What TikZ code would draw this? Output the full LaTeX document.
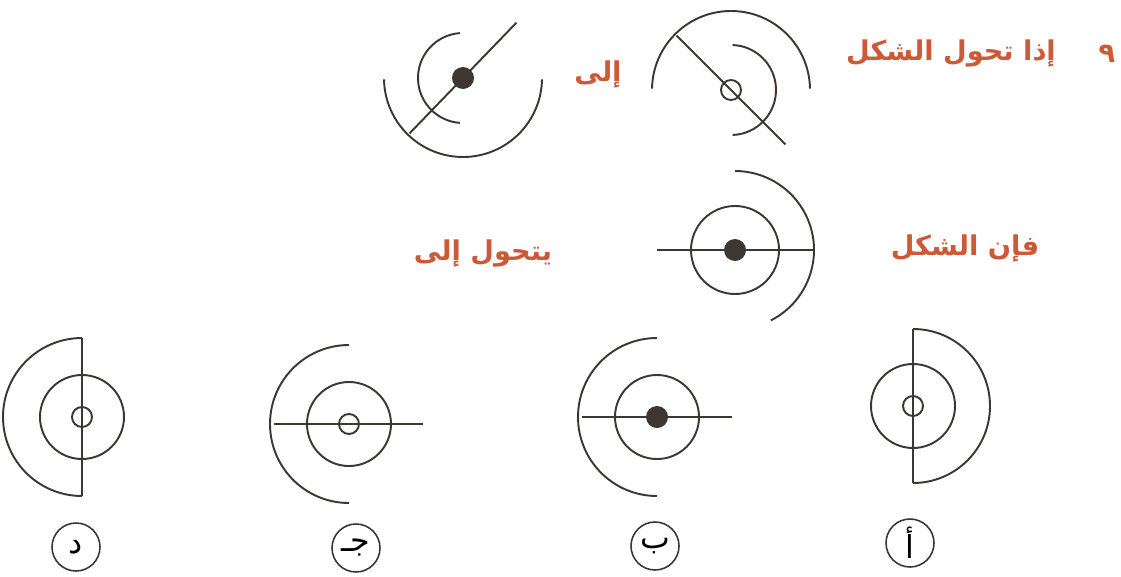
\documentclass[tikz,border=0pt]{standalone}
\usepackage{fontspec}
\usetikzlibrary{positioning}
\TeXXeTstate=1
\newfontfamily\arabicfont[Script=Arabic]{DejaVu Sans}
\definecolor{qred}{RGB}{205,90,55}
\definecolor{qline}{RGB}{60,55,50}

\begin{document}
\begin{tikzpicture}[x=0.02cm, y=0.02cm]
  \tikzset{
    ring/.style={draw=qline, line width=1.1pt},
    qtext/.style={text=qred, font=\arabicfont\bfseries\fontsize{15.5}{18}\selectfont, inner sep=0pt},
    choice/.style={draw=qline, circle, line width=0.9pt, minimum size=0.96cm, inner sep=0pt, font=\arabicfont\fontsize{18}{20}\selectfont}
  }
  \useasboundingbox (0,0) rectangle (1121,576);

  % question text
  \node[qtext] (num)    at (1107,522) {\beginR ٩\endR};
  \node[qtext] (if)     at (951,523)  {\beginR إذا تحول الشكل\endR};
  \node[qtext] (to)     at (598,502)  {\beginR إلى\endR};
  \node[qtext] (then)   at (965,328)  {\beginR فإن الشكل\endR};
  \node[qtext] (becomes) at (483,323) {\beginR يتحول إلى\endR};

  % before (hollow centre)
  \begin{scope}[shift={(731,486)}]
    \draw[ring] (0,0) circle (10);
    \draw[ring] (1:79) arc[start angle=1, end angle=179, radius=79];
    \draw[ring] (-88:45) arc[start angle=-88, end angle=88, radius=45];
    \draw[ring] (135:77) -- (-45:77);
  \end{scope}

  % after (filled centre)
  \begin{scope}[shift={(463,498)}]
    \fill[qline] (0,0) circle (11);
    \draw[ring] (181:79) arc[start angle=181, end angle=359, radius=79];
    \draw[ring] (94:45) arc[start angle=94, end angle=266, radius=45];
    \draw[ring] (226:77) -- (46:77);
  \end{scope}

  % given shape
  \begin{scope}[shift={(735,326)}]
    \fill[qline] (0,0) circle (11);
    \draw[ring] (0,0) circle (44);
    \draw[ring] (-63:79) arc[start angle=-63, end angle=90, radius=79];
    \draw[ring] (180:78) -- (0:79);
  \end{scope}

  % choice d
  \begin{scope}[shift={(82,159)}]
    \draw[ring] (0,0) circle (10);
    \draw[ring] (0,0) circle (42);
    \draw[ring] (90:79) arc[start angle=90, end angle=270, radius=79];
    \draw[ring] (0,79) -- (0,-79);
  \end{scope}

  % choice c
  \begin{scope}[shift={(349,152)}]
    \draw[ring] (0,0) circle (10);
    \draw[ring] (0,0) circle (42);
    \draw[ring] (90:79) arc[start angle=90, end angle=270, radius=79];
    \draw[ring] (-75,0) -- (74,0);
  \end{scope}

  % choice b
  \begin{scope}[shift={(657,159)}]
    \fill[qline] (0,0) circle (11);
    \draw[ring] (0,0) circle (42);
    \draw[ring] (90:79) arc[start angle=90, end angle=270, radius=79];
    \draw[ring] (-75,0) -- (75,0);
  \end{scope}

  % choice a
  \begin{scope}[shift={(913,170)}]
    \draw[ring] (0,0) circle (10);
    \draw[ring] (0,0) circle (42);
    \draw[ring] (-90:77) arc[start angle=-90, end angle=90, radius=77];
    \draw[ring] (0,77) -- (0,-77);
  \end{scope}

  % choice labels
  \node[choice] (optD) at (76,29)  {\beginR د\endR};
  \node[choice] (optC) at (356,28) {\beginR جـ\endR};
  \node[choice] (optB) at (655,30) {\beginR ب\endR};
  \node[choice] (optA) at (910,33) {\beginR أ\endR};
\end{tikzpicture}
\end{document}
